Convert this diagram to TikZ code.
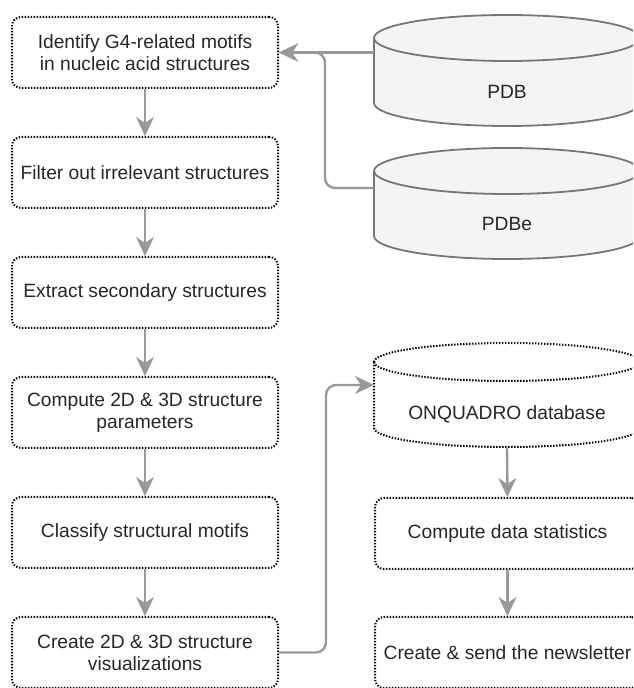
\documentclass[tikz,border=0pt]{standalone}
\usepackage{fontspec}
\setmainfont{Liberation Sans}
\usetikzlibrary{arrows.meta,calc}
\definecolor{txt}{HTML}{262626}
\definecolor{conngray}{HTML}{999999}
\definecolor{cylstroke}{HTML}{767676}
\definecolor{cylfill}{HTML}{F4F4F4}
\begin{document}
\begin{tikzpicture}[x=1pt,y=1pt,
  dotbox/.style={draw=black, line width=2pt, dash pattern=on 1.4pt off 1.6pt, rounded corners=9pt,
    minimum width=266pt, minimum height=71pt, align=center, text=txt,
    font=\fontsize{19.2}{22}\selectfont, inner sep=0pt},
  conn/.style={draw=conngray, line width=2.4pt, -{Stealth[length=19pt,width=18pt,inset=6pt]}, rounded corners=10pt},
  lbl/.style={text=txt, font=\fontsize{19.2}{22}\selectfont, inner sep=0pt},
  cyl/.style={draw=cylstroke, line width=1.8pt},
  dotline/.style={draw=black, line width=2pt, dash pattern=on 1.4pt off 1.6pt}]
\useasboundingbox (0,0) rectangle (633,688);
\clip (0,0) rectangle (633,688);

% left column
\node[dotbox] (b1) at (145,635.5) {Identify G4-related motifs\\in nucleic acid structures};
\node[dotbox] (b2) at (145,515.5) {Filter out irrelevant structures};
\node[dotbox] (b3) at (145,395.5) {Extract secondary structures};
\node[dotbox] (b4) at (145,275.5) {Compute 2D \& 3D structure\\parameters};
\node[dotbox] (b5) at (145,155.5) {Classify structural motifs};
\node[dotbox] (b6) at (145,35.5) {Create 2D \& 3D structure\\visualizations};

% right column boxes
\node[dotbox, minimum width=265pt] (st) at (507.5,154.5) {Compute data statistics};
\node[dotbox, minimum width=265pt] (nl) at (507.5,35.5) {Create \& send the newsletter};

% PDB cylinder
\draw[cyl, fill=cylfill] (374,650) -- (374,585) arc[start angle=180, end angle=360, x radius=133, y radius=23]
  -- (640,650) arc[start angle=0, end angle=180, x radius=133, y radius=23] -- cycle;
\draw[cyl] (374,650) arc[start angle=180, end angle=360, x radius=133, y radius=23];
\node[lbl] (pdb) at (507,596) {PDB};

% PDBe cylinder
\draw[cyl, fill=cylfill] (374,517) -- (374,452) arc[start angle=180, end angle=360, x radius=133, y radius=23]
  -- (640,517) arc[start angle=0, end angle=180, x radius=133, y radius=23] -- cycle;
\draw[cyl] (374,517) arc[start angle=180, end angle=360, x radius=133, y radius=23];
\node[lbl] (pdbe) at (507,464.5) {PDBe};

% ONQUADRO cylinder
\draw[dotline] (374,326) -- (374,260) arc[start angle=180, end angle=360, x radius=133, y radius=19]
  -- (640,326) arc[start angle=0, end angle=180, x radius=133, y radius=19] -- cycle;
\draw[dotline] (374,326) arc[start angle=180, end angle=360, x radius=133, y radius=19];
\node[lbl] (onq) at (507,273.5) {ONQUADRO database};

\coordinate (pdbL) at (374,635.5);
\coordinate (pdbeL) at (374,500);
\coordinate (onqL) at (374,303);
\coordinate (onqB) at (507,241);

% connectors
\draw[conn] (pdbL) -- (b1.east);
\draw[conn] (pdbeL) -- ++(-49,0) |- (b1.east);
\draw[conn] (b1.south) -- (b2.north);
\draw[conn] (b2.south) -- (b3.north);
\draw[conn] (b3.south) -- (b4.north);
\draw[conn] (b4.south) -- (b5.north);
\draw[conn] (b5.south) -- (b6.north);
\draw[conn] (b6.east) -- ++(47,0) |- (onqL);
\draw[conn] (onqB) -- (st.north);
\draw[conn] (st.south) -- (nl.north);
\end{tikzpicture}
\end{document}
